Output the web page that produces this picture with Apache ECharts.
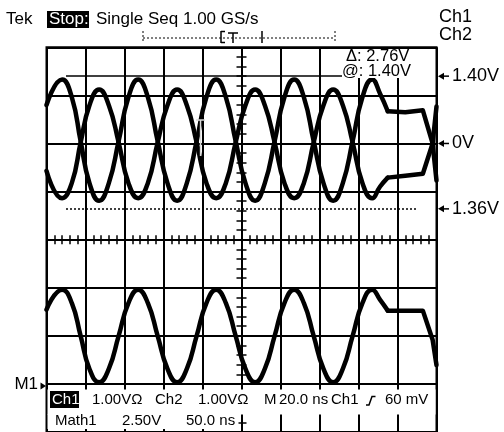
<!DOCTYPE html>
<html>
<head>
<meta charset="utf-8">
<script src="https://cdn.jsdelivr.net/npm/echarts@6/dist/echarts.min.js"></script>
<style>
  html, body { margin: 0; padding: 0; background: #fff; }
  #scope { width: 504px; height: 432px; }
</style>
</head>
<body>
<div id="scope"></div>
<script>
// Sample times in ns, relative to the centre of the screen (20 ns/div)
const timeNs = [-100, -92, -87, -82.5, -78, -73, -68, -63, -58, -53, -48, -43, -38, -33, -28, -23, -18, -13,
                -8, -3, 2, 7, 12, 17, 22, 27, 32, 37, 42, 47, 52, 57, 62, 67, 71, 75, 84, 93, 98, 100];
// Channel 1 voltages (V)
const ch1V = [0.80, 1.33, 0.96, 0.05, -0.82, -1.19, -0.82, 0.05, 0.96, 1.33, 0.96, 0.05, -0.82, -1.19, -0.82, 0.05, 0.96, 1.33,
              0.96, 0.05, -0.82, -1.19, -0.82, 0.05, 0.96, 1.33, 0.96, 0.05, -0.82, -1.19, -0.82, 0.05, 0.96, 1.33, 1.04, 0.67, 0.65, 0.69, 0.00, -0.77];
// Channel 2 voltages (V)
const ch2V = [-0.57, -1.14, -0.82, 0.02, 0.79, 1.12, 0.79, 0.02, -0.82, -1.14, -0.82, 0.02, 0.79, 1.12, 0.79, 0.02, -0.82, -1.14,
              -0.82, 0.02, 0.79, 1.12, 0.79, 0.02, -0.82, -1.14, -0.82, 0.02, 0.79, 1.12, 0.79, 0.02, -0.82, -1.14, -0.90, -0.71, -0.67, -0.63, 0.00, 0.77];
// Math1 voltages (V)
const math1V = [1.36, 2.40, 1.70, 0.00, -1.71, -2.42, -1.71, 0.00, 1.70, 2.40, 1.70, 0.00, -1.71, -2.42, -1.71, 0.00, 1.70, 2.40,
                1.70, 0.00, -1.71, -2.42, -1.71, 0.00, 1.70, 2.40, 1.70, 0.00, -1.71, -2.42, -1.71, 0.00, 1.70, 2.40, 1.88, 1.31, 1.31, 1.31, -0.20, -1.52];
// Index where the burst ends and the trace flattens out
const BURST_END = 35;

// Vertical scale (V/div) and position (div) of each trace
const CH_SCALE = 1.00, CH_POS = 2;
const MATH_SCALE = 2.50, MATH_POS = -2;

// Horizontal cursors on Ch1 (V) and their extent (ns)
const cursorA = 1.40, cursorB = -1.36;
const cursorSpan = [-90, 90];
const triggerTimeNs = -21;

const FONT = '"Liberation Sans", Arial, Helvetica, sans-serif';
const INK = '#000';

const toDiv = (v, scale, pos) => v / scale + pos;
const points = (vals, scale, pos, from, to) =>
  timeNs.slice(from, to + 1).map((t, i) => [t, toDiv(vals[from + i], scale, pos)]);

const traceLine = { color: INK, width: 4.5, cap: 'round', join: 'round' };

function trace(name, vals, scale, pos, extra) {
  const common = {
    name, type: 'line', symbol: 'none', clip: false, animation: false,
    lineStyle: traceLine, emphasis: { disabled: true }, silent: true
  };
  return [
    Object.assign({}, common, { data: points(vals, scale, pos, 0, BURST_END), smooth: 0.5 }, extra || {}),
    Object.assign({}, common, { data: points(vals, scale, pos, BURST_END, timeNs.length - 1), smooth: false })
  ];
}

function xAxisDef(position, withGrid) {
  return {
    type: 'value', min: -100, max: 100, interval: 20, position,
    axisLine: { show: false, onZero: true },
    axisLabel: { show: false },
    axisTick: { show: false, inside: true },
    minorTick: { show: true, splitNumber: 5, length: 4.5, lineStyle: { color: INK, width: 1.5 } },
    splitLine: { show: withGrid, lineStyle: { color: INK, width: 2 } }
  };
}
function yAxisDef(position, withGrid) {
  return {
    type: 'value', min: -4, max: 4, interval: 1, position,
    axisLine: { show: false, onZero: true },
    axisLabel: { show: false },
    axisTick: { show: false, inside: true },
    minorTick: { show: true, splitNumber: 5, length: 5, lineStyle: { color: INK, width: 1.5 } },
    splitLine: { show: withGrid, lineStyle: { color: INK, width: 2 } }
  };
}

const cursorMarks = {
  silent: true, symbol: 'none', animation: false,
  label: { show: false },
  lineStyle: { color: INK, width: 1.5 },
  emphasis: { disabled: true },
  data: [
    [{ coord: [cursorSpan[0], toDiv(cursorA, CH_SCALE, CH_POS)], lineStyle: { type: 'solid', color: INK, width: 1.5 } },
     { coord: [cursorSpan[1], toDiv(cursorA, CH_SCALE, CH_POS)] }],
    [{ coord: [cursorSpan[0], toDiv(cursorB, CH_SCALE, CH_POS)], lineStyle: { type: [2, 2], color: INK, width: 1.5 } },
     { coord: [cursorSpan[1], toDiv(cursorB, CH_SCALE, CH_POS)] }]
  ]
};

const chart = echarts.init(document.getElementById('scope'), null, { renderer: 'canvas' });

chart.setOption({
  backgroundColor: '#fff',
  animation: false,
  grid: {
    left: 46.5, top: 47.3, width: 390, height: 389,
    show: true, borderColor: INK, borderWidth: 2, backgroundColor: '#fff'
  },
  xAxis: [xAxisDef('bottom', true), xAxisDef('top', false)],
  yAxis: [yAxisDef('left', true), yAxisDef('right', false)],
  series: [
    ...trace('Ch1', ch1V, CH_SCALE, CH_POS, { markLine: cursorMarks }),
    ...trace('Ch2', ch2V, CH_SCALE, CH_POS),
    ...trace('Math1', math1V, MATH_SCALE, MATH_POS)
  ]
});

// ---- screen annotations ----
function txt(x, y, s, size, opt) {
  opt = opt || {};
  return {
    type: 'text', x, y, z: 20, silent: true,
    style: {
      text: s, fill: opt.fill || INK, fontSize: size, fontFamily: FONT,
      align: opt.align || 'left', verticalAlign: 'middle'
    }
  };
}
function box(x, y, w, h, fill, z) {
  return { type: 'rect', z: z || 15, silent: true, shape: { x, y, width: w, height: h }, style: { fill } };
}
function seg(x1, y1, x2, y2, opt) {
  opt = opt || {};
  return {
    type: 'line', z: opt.z || 20, silent: true,
    shape: { x1, y1, x2, y2 },
    style: { stroke: opt.stroke || INK, lineWidth: opt.w || 1.5, lineDash: opt.dash || null }
  };
}
function poly(pts, z) {
  return { type: 'polygon', z: z || 20, silent: true, shape: { points: pts }, style: { fill: INK } };
}
function leftArrow(y) {
  return [poly([[438, y], [444, y - 3.5], [444, y + 3.5]]), seg(443, y, 449, y, { w: 1.5 })];
}

const yOf = (div) => chart.convertToPixel({ yAxisIndex: 0 }, div);
const xOf = (t) => chart.convertToPixel({ xAxisIndex: 0 }, t);

const yA = yOf(toDiv(cursorA, CH_SCALE, CH_POS));
const yB = yOf(toDiv(cursorB, CH_SCALE, CH_POS));
const yZero = yOf(CH_POS);
const xTrig = xOf(triggerTimeNs);
const BOTTOM_FONT = 15;

const elements = [
  // status line
  txt(6, 19, 'Tek', 17),
  box(47, 11, 42, 17, INK, 18),
  txt(49, 19, 'Stop:', 17, { fill: '#fff' }),
  txt(96, 19, 'Single Seq 1.00 GS/s', 17),
  txt(439, 17, 'Ch1', 18),
  txt(439, 35.5, 'Ch2', 18),

  // record / trigger position bar
  seg(143, 38, 335, 38, { w: 1, dash: [2, 2] }),
  seg(143, 31, 143, 43, { w: 1, dash: [2, 2] }),
  seg(335, 31, 335, 43, { w: 1, dash: [2, 2] }),
  seg(221, 31, 221, 43, { w: 1.5 }),
  seg(221, 31.5, 225, 31.5, { w: 1.5 }),
  seg(221, 42.5, 225, 42.5, { w: 1.5 }),
  seg(228, 33, 238, 33, { w: 1.5 }),
  seg(233, 33, 233, 43, { w: 1.5 }),
  seg(262, 31, 262, 43, { w: 1.5 }),

  // cursor readout
  box(342, 49, 75, 29, '#fff', 15),
  txt(346, 56, 'Δ: ' + (cursorA - cursorB).toFixed(2) + 'V', 16.5),
  txt(342, 71, '@: ' + cursorA.toFixed(2) + 'V', 16.5),

  // level markers on the right
  ...leftArrow(yA), txt(452, yA, Math.abs(cursorA).toFixed(2) + 'V', 18),
  ...leftArrow(yZero), txt(452, yZero, '0V', 18),
  ...leftArrow(yB), txt(452, yB, Math.abs(cursorB).toFixed(2) + 'V', 18),

  // trigger point marker
  seg(xTrig - 4.5, 120, xTrig + 4.5, 120, { stroke: '#d8d8d8', w: 1.5, z: 12 }),
  seg(xTrig, 120, xTrig, 156, { stroke: '#d8d8d8', w: 1.5, z: 12 }),

  // Math1 ground marker
  txt(38, 384, 'M1', 17, { align: 'right' }),
  poly([[46, 386], [40.5, 382.5], [40.5, 389.5]]),

  // settings readout along the bottom
  box(47.5, 389.5, 388, 25, '#fff', 15),
  box(47.5, 414, 191, 15, '#fff', 15),
  box(50, 391, 29, 17, INK, 18),
  txt(52, 400, 'Ch1', BOTTOM_FONT, { fill: '#fff' }),
  txt(92, 400, '1.00VΩ', BOTTOM_FONT),
  txt(155, 400, 'Ch2', BOTTOM_FONT),
  txt(198, 400, '1.00VΩ', BOTTOM_FONT),
  txt(264, 400, 'M', BOTTOM_FONT),
  txt(279, 400, '20.0 ns', BOTTOM_FONT),
  txt(331, 400, 'Ch1', BOTTOM_FONT),
  { type: 'polyline', z: 20, silent: true, shape: { points: [[366, 405], [369, 405], [372, 396.5], [375.5, 396.5]] },
    style: { stroke: INK, lineWidth: 1.5, fill: null } },
  txt(385, 400, '60 mV', BOTTOM_FONT),
  txt(55, 421, 'Math1', BOTTOM_FONT),
  txt(122, 421, '2.50V', BOTTOM_FONT),
  txt(186, 421, '50.0 ns', BOTTOM_FONT)
];

chart.setOption({ graphic: { elements } });
</script>
</body>
</html>
